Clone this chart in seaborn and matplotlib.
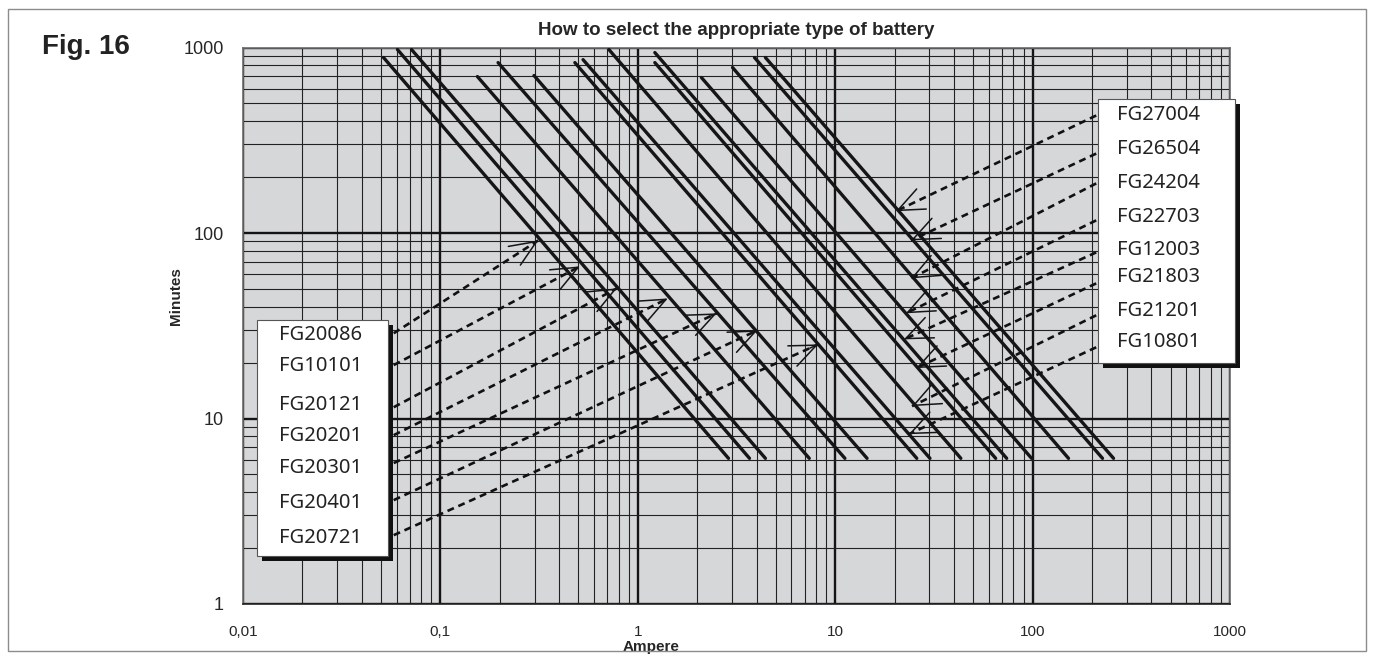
import numpy as np
import pandas as pd
import matplotlib
matplotlib.use("Agg")
import matplotlib.pyplot as plt
import seaborn as sns
from matplotlib.patches import Rectangle, FancyArrowPatch
from matplotlib.ticker import LogLocator, FixedLocator, NullFormatter

# ---------------- data ----------------
# discharge curves (solid lines): upper-left end and lower-right end
curve_I_top = [0.0515, 0.0606, 0.0714, 0.154, 0.196, 0.298, 0.480, 0.528, 0.714, 1.22, 1.22, 2.10, 3.02, 3.90, 4.43]
curve_t_top = [883, 975, 975, 697, 829, 706, 829, 860, 975, 829, 939, 689, 780, 883, 883]
curve_I_bottom = [2.88, 3.68, 4.43, 7.39, 11.2, 14.5, 25.9, 30.2, 43.3, 65.0, 73.9, 98.8, 152, 226, 257]
curve_t_bottom = [6.1, 6.1, 6.1, 6.1, 6.1, 6.1, 6.1, 6.1, 6.1, 6.1, 6.1, 6.1, 6.1, 6.1, 6.1]

# left legend box: labels and dashed pointer arrows
left_labels = ["FG20086", "FG10101", "FG20121", "FG20201", "FG20301", "FG20401", "FG20721"]
left_start_I = [0.058, 0.058, 0.058, 0.058, 0.058, 0.058, 0.058]
left_start_t = [28.8, 19.4, 11.5, 8.13, 5.75, 3.63, 2.35]
left_tip_I = [0.313, 0.509, 0.783, 1.42, 2.51, 4.04, 8.21]
left_tip_t = [91.2, 66.1, 50.3, 44.4, 36.9, 29.9, 25.1]

# right legend box: labels and dashed pointer arrows
right_labels = ["FG27004", "FG26504", "FG24204", "FG22703", "FG12003", "FG21803", "FG21201", "FG10801"]
right_start_I = [210, 210, 210, 210, 210, 210, 210, 210]
right_start_t = [430, 268, 185, 117, 78.6, 53.5, 36.0, 24.2]
right_tip_I = [20.3, 24.2, 24.2, 22.8, 22.3, 25.7, 24.5, 23.6]
right_tip_t = [131, 91.2, 56.9, 36.9, 26.7, 18.7, 11.65, 8.23]

x_ticks = [0.01, 0.1, 1, 10, 100, 1000]
x_tick_labels = ["0,01", "0,1", "1", "10", "100", "1000"]
y_ticks = [1, 10, 100, 1000]
y_tick_labels = ["1", "10", "100", "1000"]

title = "How to select the appropriate type of battery"
fig_label = "Fig. 16"

# ---------------- figure ----------------
sns.set_style("white")
plt.rcParams["font.family"] = ["Liberation Sans", "DejaVu Sans"]
plt.rcParams["lines.scale_dashes"] = False

W, H = 1374, 659
fig = plt.figure(figsize=(W / 100, H / 100), dpi=100)
fig.patch.set_facecolor("white")

L, R, T, B = 243, 1230, 47.5, 604
ax = fig.add_axes([L / W, 1 - B / H, (R - L) / W, (B - T) / H])
ax.set_facecolor("#d6d7d9")
ax.set_xscale("log")
ax.set_yscale("log")

# curves
rows = []
for k in range(len(curve_I_top)):
    rows.append({"curve": k, "I": curve_I_top[k], "t": curve_t_top[k]})
    rows.append({"curve": k, "I": curve_I_bottom[k], "t": curve_t_bottom[k]})
df_curves = pd.DataFrame(rows)
sns.lineplot(data=df_curves, x="I", y="t", units="curve", estimator=None, sort=False,
             color="#151515", linewidth=2.4, legend=False, ax=ax, zorder=3)

# dashed pointers
rows = []
for k in range(len(left_labels)):
    rows.append({"arrow": f"L{k}", "I": left_start_I[k], "t": left_start_t[k]})
    rows.append({"arrow": f"L{k}", "I": left_tip_I[k], "t": left_tip_t[k]})
for k in range(len(right_labels)):
    rows.append({"arrow": f"R{k}", "I": right_start_I[k], "t": right_start_t[k]})
    rows.append({"arrow": f"R{k}", "I": right_tip_I[k], "t": right_tip_t[k]})
df_arrows = pd.DataFrame(rows)
sns.lineplot(data=df_arrows, x="I", y="t", units="arrow", estimator=None, sort=False,
             color="#111111", linewidth=1.9, linestyle=(0, (5, 3.5)), legend=False, ax=ax, zorder=4)

# solid open arrowheads at the tips
def head(sI, sT, eI, eT):
    la = np.log10([sI, sT]); lb = np.log10([eI, eT])
    pa = 10 ** (lb - 0.02 * (lb - la))
    ax.add_patch(FancyArrowPatch(tuple(pa), (eI, eT), arrowstyle="->,head_length=19,head_width=8",
                                 mutation_scale=1, color="#151515", lw=1.1, shrinkA=0, shrinkB=0, zorder=5))

for k in range(len(left_labels)):
    head(left_start_I[k], left_start_t[k], left_tip_I[k], left_tip_t[k])
for k in range(len(right_labels)):
    head(right_start_I[k], right_start_t[k], right_tip_I[k], right_tip_t[k])

ax.set_xlim(x_ticks[0], x_ticks[-1])
ax.set_ylim(y_ticks[0], y_ticks[-1])

ax.xaxis.set_major_locator(FixedLocator(x_ticks))
ax.yaxis.set_major_locator(FixedLocator(y_ticks))
ax.xaxis.set_minor_locator(LogLocator(base=10, subs=range(2, 10), numticks=20))
ax.yaxis.set_minor_locator(LogLocator(base=10, subs=range(2, 10), numticks=20))
ax.xaxis.set_minor_formatter(NullFormatter())
ax.yaxis.set_minor_formatter(NullFormatter())
ax.set_xticklabels(x_tick_labels, fontsize=11)
ax.set_yticklabels(y_tick_labels, fontsize=13)
ax.tick_params(axis="x", which="both", length=0, pad=15)
ax.tick_params(axis="y", which="both", length=0, pad=14)
ax.grid(which="major", color="#141414", linewidth=1.7, zorder=1)
ax.grid(which="minor", color="#222222", linewidth=0.8, zorder=1)
ax.set_axisbelow(True)
for s in ax.spines.values():
    s.set_color("#6a6a6a")
    s.set_linewidth(1.2)
ax.spines["bottom"].set_color("#222222")

ax.set_xlabel("Ampere", fontsize=11, fontweight="bold")
ax.set_ylabel("Minutes", fontsize=11, fontweight="bold")
ax.xaxis.set_label_coords((651 - L) / (R - L), (B - 647) / (B - T))
ax.yaxis.set_label_coords((176 - L) / (R - L), (B - 296) / (B - T))
ax.xaxis.label.set_va("center")
ax.yaxis.label.set_va("center")
ax.set_title(title, fontsize=13.5, fontweight="bold", pad=9)

# ---------------- annotation boxes (figure pixel layout) ----------------
def fx(px): return px / W
def fy(py): return 1 - py / H

def box(x0, y0, x1, y1, off=5):
    fig.patches.append(Rectangle((fx(x0 + off), fy(y1 + off)), (x1 - x0) / W, (y1 - y0) / H,
                                 transform=fig.transFigure, facecolor="#111111", edgecolor="none", zorder=6))
    fig.patches.append(Rectangle((fx(x0), fy(y1)), (x1 - x0) / W, (y1 - y0) / H,
                                 transform=fig.transFigure, facecolor="white", edgecolor="#555555",
                                 linewidth=0.8, zorder=7))

box(257, 320, 388, 556)
left_text_y = [335, 366, 405, 436, 468, 503, 538]
for lab, yy in zip(left_labels, left_text_y):
    fig.text(fx(279), fy(yy), lab, ha="left", va="center", fontsize=14.5, family="Noto Sans",
             color="#222222", zorder=8)

box(1098, 99, 1235, 363)
right_text_y = [115, 149, 183, 217, 250, 277, 311, 342]
for lab, yy in zip(right_labels, right_text_y):
    fig.text(fx(1117), fy(yy), lab, ha="left", va="center", fontsize=14.5, family="Noto Sans",
             color="#222222", zorder=8)

fig.text(fx(42), fy(47), fig_label, ha="left", va="center", fontsize=20, fontweight="bold",
         family="Liberation Sans", color="#222222")

fig.patches.append(Rectangle((fx(8), fy(651)), (1366 - 8) / W, (651 - 9) / H, transform=fig.transFigure,
                             fill=False, edgecolor="#8c8c8c", linewidth=1.0, zorder=0))

fig.savefig("out.png", dpi=100)
